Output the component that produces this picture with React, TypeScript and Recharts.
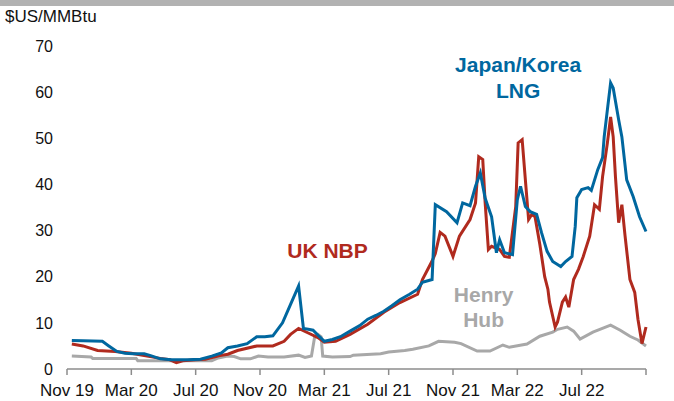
import { LineChart, Line, XAxis, YAxis, ReferenceDot } from "recharts";

// x = months since 1 Nov 2019, y = $US/MMBtu
const japanKoreaLng: [number, number][] = [
  [0.3, 6.2], [1.0, 6.1], [2.2, 6.0], [2.6, 5.0], [3.1, 3.8], [3.6, 3.4], [4.1, 3.3],
  [4.8, 3.3], [5.2, 2.9], [5.8, 2.2], [6.5, 2.0], [7.5, 2.0], [8.3, 2.1], [9.0, 2.8],
  [9.6, 3.5], [10.0, 4.6], [10.6, 5.0], [11.2, 5.5], [11.8, 7.0], [12.3, 7.0], [12.8, 7.2],
  [13.4, 10.0], [13.9, 14.0], [14.4, 18.0], [14.7, 8.8], [15.0, 8.6], [15.3, 8.4], [15.7, 7.0],
  [16.0, 6.0], [16.5, 6.4], [17.0, 7.0], [17.6, 8.2], [18.2, 9.4], [18.7, 10.8], [19.2, 11.6],
  [19.7, 12.5], [20.2, 13.7], [20.7, 15.0], [21.3, 16.2], [21.8, 17.3], [22.1, 18.8], [22.7, 19.4],
  [22.9, 35.6], [23.6, 34.1], [24.25, 31.7], [24.6, 36.0], [25.06, 35.4], [25.4, 39.6], [25.7, 42.5],
  [26.0, 37.0], [26.4, 33.0], [26.7, 25.2], [26.9, 28.0], [27.2, 25.2], [27.7, 24.8], [28.0, 36.7],
  [28.2, 39.6], [28.5, 35.2], [28.8, 34.1], [29.2, 33.5], [29.5, 29.6], [29.85, 25.5], [30.2, 23.3],
  [30.7, 22.2], [31.0, 23.3], [31.4, 24.4], [31.6, 30.9], [31.7, 37.1], [32.0, 38.9], [32.4, 39.3],
  [32.6, 38.7], [33.0, 43.2], [33.3, 45.8], [33.4, 50.3], [33.6, 56.2], [33.8, 62.0], [33.96, 60.9],
  [34.3, 54.0], [34.5, 50.3], [34.8, 41.0], [35.2, 37.4], [35.6, 33.0], [36.0, 29.8],
];

const ukNbp: [number, number][] = [
  [0.3, 5.4], [1.0, 5.0], [1.9, 4.0], [3.0, 3.8], [4.0, 3.4], [4.8, 2.9], [5.8, 2.3],
  [6.4, 2.0], [6.8, 1.4], [7.2, 1.8], [8.0, 2.0], [8.6, 2.1], [9.5, 2.9], [10.0, 3.2],
  [10.6, 4.0], [11.8, 5.0], [12.8, 5.0], [13.5, 6.0], [13.9, 7.5], [14.4, 8.8], [15.0, 7.8],
  [15.6, 6.8], [16.0, 5.8], [16.7, 6.0], [17.6, 7.5], [18.7, 9.7], [19.7, 12.3], [20.7, 14.4],
  [21.8, 16.2], [22.1, 19.4], [22.7, 23.4], [22.9, 25.0], [23.2, 29.6], [23.5, 28.8], [24.0, 24.4],
  [24.4, 28.8], [25.06, 32.4], [25.4, 36.0], [25.6, 46.0], [25.85, 45.4], [26.0, 36.0], [26.2, 25.9],
  [26.4, 26.6], [26.9, 25.9], [27.2, 24.4], [27.5, 24.2], [27.9, 35.2], [28.05, 49.0], [28.3, 49.7],
  [28.5, 41.0], [28.7, 32.4], [28.9, 33.5], [29.1, 33.0], [29.4, 27.0], [29.7, 20.0], [29.9, 17.3],
  [30.0, 14.5], [30.35, 9.1], [30.5, 10.2], [30.8, 14.5], [31.0, 15.6], [31.2, 13.4], [31.5, 19.4],
  [31.8, 21.6], [32.1, 24.4], [32.5, 28.8], [32.8, 35.6], [33.1, 34.6], [33.3, 41.7], [33.6, 49.0],
  [33.8, 54.6], [33.96, 50.3], [34.1, 41.7], [34.3, 31.7], [34.5, 35.6], [34.7, 28.8], [35.0, 19.4],
  [35.3, 16.6], [35.5, 10.8], [35.75, 5.5], [36.0, 9.1],
];

const henryHub: [number, number][] = [
  [0.3, 2.8], [1.5, 2.6], [1.6, 2.3], [4.3, 2.3], [4.4, 1.8], [9.0, 1.8], [9.4, 2.4],
  [10.0, 2.8], [10.4, 2.7], [10.8, 2.2], [11.4, 2.2], [11.9, 2.8], [12.5, 2.6], [13.5, 2.6],
  [14.4, 3.0], [14.8, 2.5], [15.2, 2.8], [15.4, 7.0], [15.6, 7.5], [15.8, 7.0], [15.9, 2.8],
  [16.5, 2.6], [17.6, 2.7], [17.8, 3.0], [19.5, 3.3], [20.0, 3.7], [21.0, 4.0], [21.5, 4.3],
  [22.5, 5.0], [23.1, 6.0], [24.1, 5.8], [24.5, 5.5], [25.5, 3.9], [26.3, 3.9], [27.1, 5.2],
  [27.5, 4.7], [28.6, 5.4], [29.4, 7.1], [30.2, 8.0], [30.5, 8.6], [31.1, 9.1], [31.5, 8.2],
  [31.9, 6.5], [32.7, 8.0], [33.8, 9.5], [34.4, 8.4], [35.0, 7.1], [35.5, 6.3], [36.0, 5.0],
];

const xTicks = [0, 4, 8, 12, 16, 20, 24, 28, 32, 36];
const xTickLabels = ["Nov 19", "Mar 20", "Jul 20", "Nov 20", "Mar 21", "Jul 21", "Nov 21", "Mar 22", "Jul 22", ""];
const yTicks = [0, 10, 20, 30, 40, 50, 60, 70];

const BLUE = "#00679f";
const RED = "#b02a1e";
const GRAY = "#a8a8a8";
const FONT = "'Liberation Sans', Arial, sans-serif";

const toPoints = (rows: [number, number][]) => rows.map(([m, v]) => ({ m, v }));

const labelStyle = (value: string, fill: string) => ({
  value,
  position: "center" as const,
  fill,
  fontSize: 21,
  fontWeight: 700,
  fontFamily: FONT,
});

export default function App() {
  return (
    <div style={{ position: "absolute", left: 0, top: 0, width: 674, height: 401, background: "#fff", fontFamily: FONT }}>
      <div style={{ position: "absolute", left: 0, top: 0, width: 674, height: 6, background: "#b2b2b2" }} />
      <div style={{ position: "absolute", left: 5, top: 7, fontSize: 17, color: "#111" }}>$US/MMBtu</div>
      <LineChart width={674} height={401} margin={{ top: 46, right: 28, bottom: 2, left: 7 }}>
        <XAxis
          dataKey="m"
          type="number"
          domain={[0, 36]}
          ticks={xTicks}
          tickFormatter={(value: number) => xTickLabels[xTicks.indexOf(value)] ?? ""}
          allowDuplicatedCategory={false}
          stroke="#8c8c8c"
          strokeWidth={1.5}
          tickSize={6}
          tickMargin={9}
          height={30}
          interval={0}
          tick={{ fill: "#111", fontSize: 17, fontFamily: FONT }}
        />
        <YAxis
          type="number"
          domain={[0, 70]}
          ticks={yTicks}
          axisLine={false}
          tickLine={false}
          tickSize={6}
          tickMargin={8}
          width={60}
          tick={{ fill: "#111", fontSize: 16, fontFamily: FONT }}
        />
        <Line data={toPoints(henryHub)} dataKey="v" stroke={GRAY} strokeWidth={3} dot={false} isAnimationActive={false} />
        <Line data={toPoints(ukNbp)} dataKey="v" stroke={RED} strokeWidth={3} dot={false} isAnimationActive={false} />
        <Line data={toPoints(japanKoreaLng)} dataKey="v" stroke={BLUE} strokeWidth={3} dot={false} isAnimationActive={false} />
        <ReferenceDot x={28.05} y={65.9} r={0} stroke="none" label={labelStyle("Japan/Korea", BLUE)} />
        <ReferenceDot x={28.05} y={60.4} r={0} stroke="none" label={labelStyle("LNG", BLUE)} />
        <ReferenceDot x={16.2} y={25.6} r={0} stroke="none" label={labelStyle("UK NBP", RED)} />
        <ReferenceDot x={25.9} y={16.1} r={0} stroke="none" label={labelStyle("Henry", GRAY)} />
        <ReferenceDot x={25.9} y={10.7} r={0} stroke="none" label={labelStyle("Hub", GRAY)} />
      </LineChart>
    </div>
  );
}
